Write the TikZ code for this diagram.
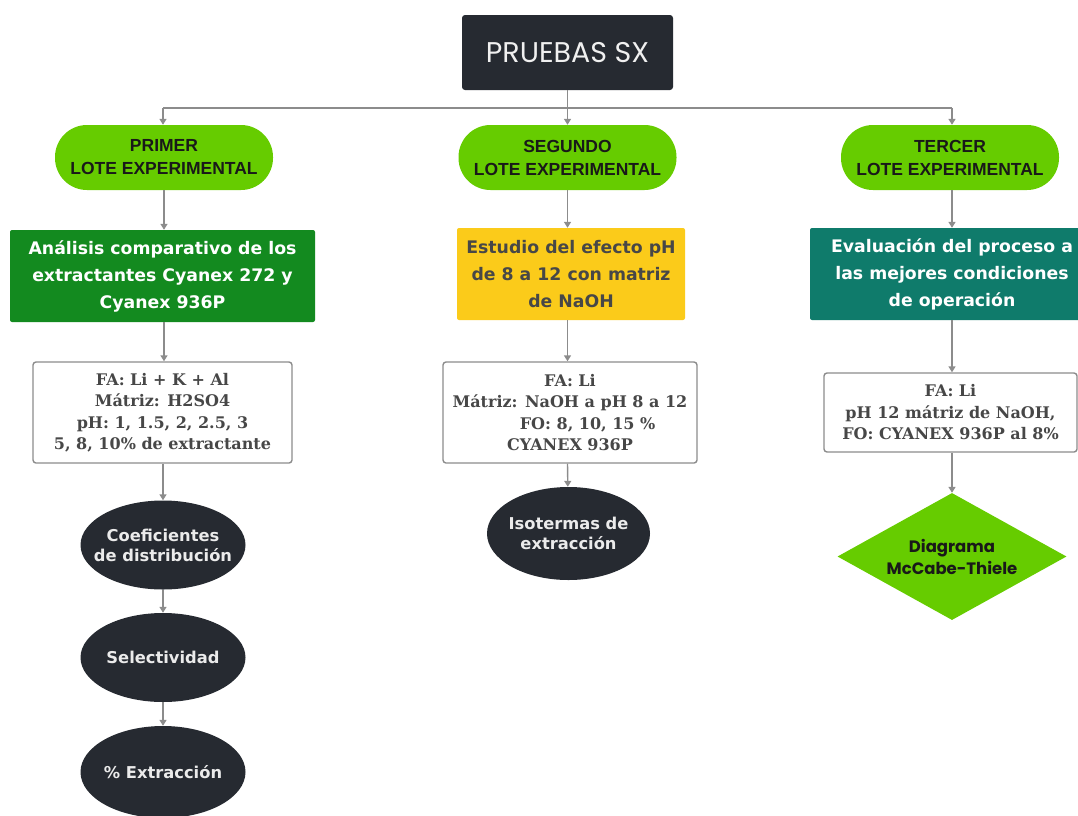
\documentclass[tikz,border=0pt]{standalone}
\usepackage{fontspec}
\setmainfont{DejaVu Serif}
\setsansfont{DejaVu Sans}
\newfontfamily\lotefont{Liberation Sans}
\newfontfamily\titlefont{Poppins}
\usetikzlibrary{positioning,shapes.geometric,arrows.meta}

\definecolor{darkbox}{HTML}{262A31}
\definecolor{lotegreen}{HTML}{66CC00}
\definecolor{boxgreen}{HTML}{138A1F}
\definecolor{boxyellow}{HTML}{FBCB1A}
\definecolor{boxteal}{HTML}{0F7B6B}
\definecolor{linegray}{HTML}{8C8C8C}
\definecolor{txtgray}{HTML}{474747}

\begin{document}
\begin{tikzpicture}[x=1pt,y=-1pt,
    conn/.style={draw=linegray,line width=1.4pt},
    arr/.style={conn,-{Triangle[width=7pt,length=6pt]}},
    lote/.style={rectangle,rounded corners=32pt,fill=lotegreen,minimum width=218pt,minimum height=65pt,
      inner sep=0pt,align=center,text=black!90,font=\lotefont\bfseries\fontsize{17.5}{23}\selectfont},
    tema/.style={rectangle,rounded corners=2pt,minimum height=92pt,inner sep=0pt,align=center,
      font=\sffamily\bfseries\fontsize{17.3}{27}\selectfont},
    datos/.style={rectangle,rounded corners=3pt,draw=linegray,line width=1.4pt,fill=white,inner sep=0pt,
      align=center,text=txtgray,font=\bfseries\fontsize{16}{21.5}\selectfont},
    resultado/.style={ellipse,fill=darkbox,minimum width=165pt,minimum height=89pt,inner xsep=-14pt,inner ysep=0pt,
      align=center,text=white!92!black,font=\sffamily\bfseries\fontsize{16.3}{20}\selectfont},
    decision/.style={diamond,fill=lotegreen,minimum width=229pt,minimum height=127pt,aspect=1.8,inner sep=0pt,
      align=center,text=black!90,font=\titlefont\bfseries\fontsize{16.5}{22}\selectfont}]

\useasboundingbox (0,0) rectangle (1078,815);

% raiz
\node[rectangle,rounded corners=3pt,fill=darkbox,minimum width=211pt,minimum height=75pt,
  text=white!94!black,font=\titlefont\fontsize{28.5}{32}\selectfont] (pruebas) at (567.5,52.5) {PRUEBAS SX};

\coordinate (jL) at (163,108);
\coordinate (jM) at (567.5,108);
\coordinate (jR) at (952,108);

% lotes
\node[lote] (lote1) at (164,157.5) {PRIMER\\LOTE EXPERIMENTAL};
\node[lote] (lote2) at (567.5,157.5) {SEGUNDO\\LOTE EXPERIMENTAL};
\node[lote] (lote3) at (950,157.5) {TERCER\\LOTE EXPERIMENTAL};

\node[tema,fill=boxgreen,text=white,minimum width=305pt] (tema1) at (162.5,276) {An\'alisis comparativo de los\\extractantes Cyanex 272 y\\Cyanex 936P};
\node[tema,fill=boxyellow,text=txtgray,minimum width=228pt] (tema2) at (571,274) {Estudio del efecto pH\\de 8 a 12 con matriz\\de NaOH};
\node[tema,fill=boxteal,text=white,minimum width=284pt] (tema3) at (952,274) {Evaluaci\'on del proceso a\\las mejores condiciones\\de operaci\'on};

\node[datos,minimum width=259pt,minimum height=101pt] (datos1) at (162.5,412.5) {FA: Li + K + Al\\M\'atriz: H2SO4\\pH: 1, 1.5, 2, 2.5, 3\\5, 8, 10\% de extractante};
\node[datos,minimum width=254pt,minimum height=101pt] (datos2) at (570,412.5) {FA: Li\\M\'atriz: NaOH a pH 8 a 12\\\hspace*{2.2em}FO: 8, 10, 15 \%\\CYANEX 936P};
\node[datos,minimum width=253pt,minimum height=79pt] (datos3) at (950.5,412.5) {FA: Li\\pH 12 m\'atriz de NaOH,\\FO: CYANEX 936P al 8\%};

\node[resultado] (coef) at (163,545) {Coeficientes\\de distribuci\'on};
\node[resultado] (selec) at (163,657.5) {Selectividad};
\node[resultado,minimum height=92pt] (extrac) at (163,772) {\% Extracci\'on};
\node[resultado,minimum width=163pt,minimum height=93pt] (isot) at (568.5,533.5) {Isotermas de\\extracci\'on};
\node[decision] (mccabe) at (952,556.5) {Diagrama\\McCabe-Thiele};

% conectores
\draw[conn] (jL) -- (jR);
\draw[conn] (pruebas) -- (jM);
\draw[arr] (jL) -- (jL |- lote1.north);
\draw[arr] (jM) -- (jM |- lote2.north);
\draw[arr] (jR) -- (jR |- lote3.north);
\draw[arr] (lote1.south) -- (lote1.south |- tema1.north);
\draw[arr] (lote2.south) -- (lote2.south |- tema2.north);
\draw[arr] (jR |- lote3.south) -- (jR |- tema3.north);
\draw[arr] (lote1.south |- tema1.south) -- (lote1.south |- datos1.north);
\draw[arr] (lote2.south |- tema2.south) -- (lote2.south |- datos2.north);
\draw[arr] (jR |- tema3.south) -- (jR |- datos3.north);
\draw[arr] (jL |- datos1.south) -- (coef);
\draw[arr] (coef) -- (selec);
\draw[arr] (selec) -- (extrac);
\draw[arr] (lote2.south |- datos2.south) -- (isot);
\draw[arr] (jR |- datos3.south) -- (mccabe);
\end{tikzpicture}
\end{document}
